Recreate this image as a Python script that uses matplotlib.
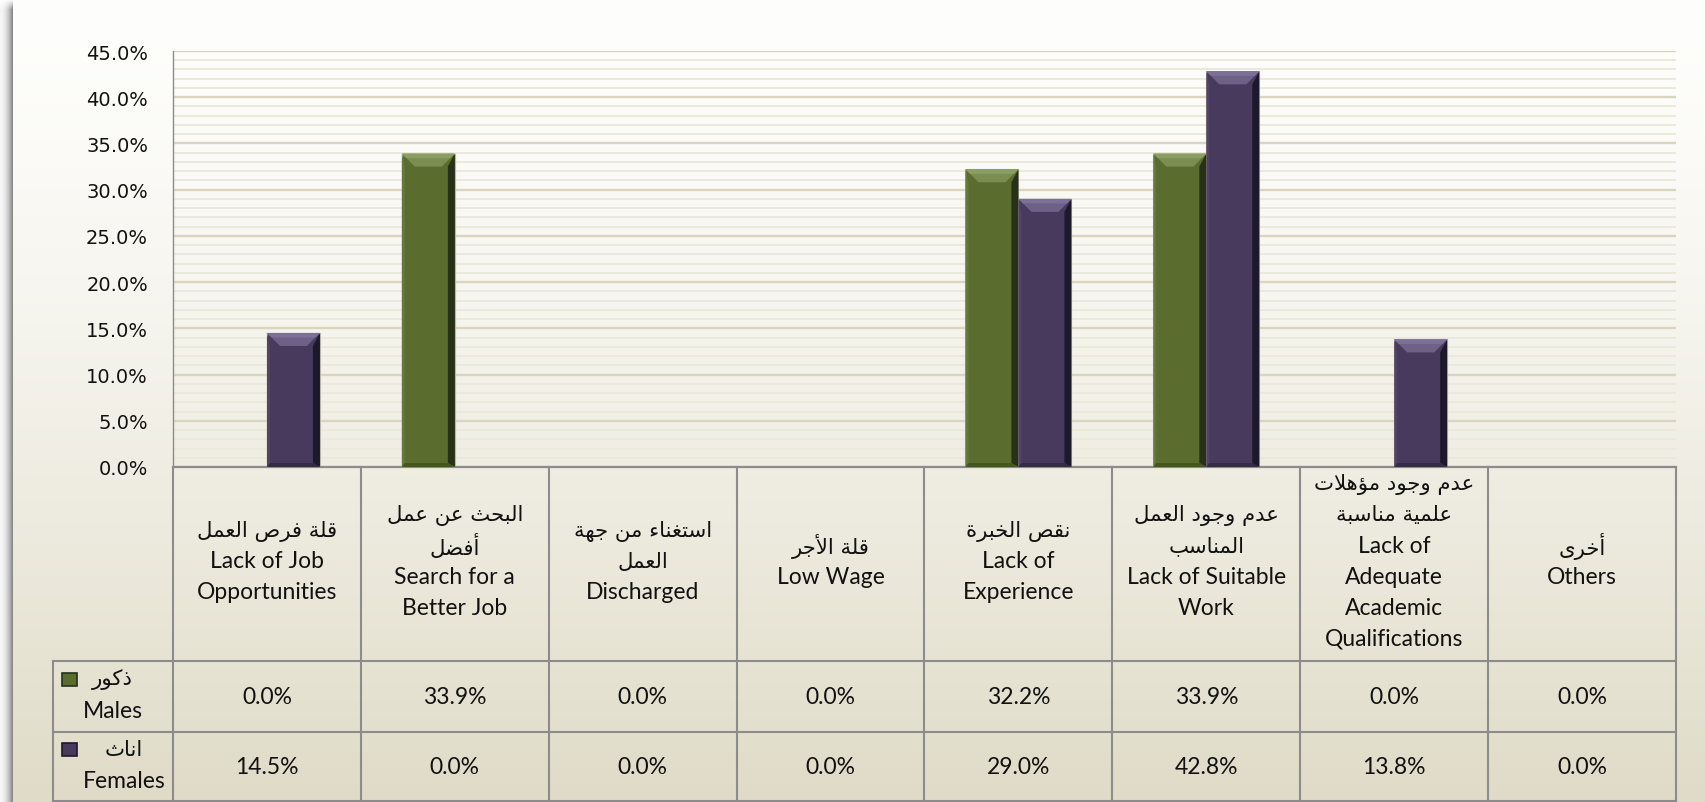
import matplotlib
matplotlib.use('Agg')
import matplotlib.pyplot as plt
from matplotlib.patches import Polygon, Rectangle
from matplotlib.ticker import MultipleLocator, FuncFormatter
import numpy as np

# data (percent)
males = [0.0, 33.9, 0.0, 0.0, 32.2, 33.9, 0.0, 0.0]
females = [14.5, 0.0, 0.0, 0.0, 29.0, 42.8, 13.8, 0.0]
categories = [
    ["قلة فرص العمل", "Lack of Job", "Opportunities"],
    ["البحث عن عمل", "أفضل", "Search for a", "Better Job"],
    ["استغناء من جهة", "العمل", "Discharged"],
    ["قلة الأجر", "Low Wage"],
    ["نقص الخبرة", "Lack of", "Experience"],
    ["عدم وجود العمل", "المناسب", "Lack of Suitable", "Work"],
    ["عدم وجود مؤهلات", "علمية مناسبة", "Lack of", "Adequate", "Academic", "Qualifications"],
    ["أخرى", "Others"],
]
series_ar = ["ذكور", "اناث"]
series_en = ["Males", "Females"]
yticks = np.arange(0, 46, 5)

# --- simple arabic shaping (presentation forms + visual order) ---
AR_FORMS = {
    '\u0621': (0xFE80, 1), '\u0622': (0xFE81, 2), '\u0623': (0xFE83, 2), '\u0624': (0xFE85, 2),
    '\u0625': (0xFE87, 2), '\u0626': (0xFE89, 4), '\u0627': (0xFE8D, 2), '\u0628': (0xFE8F, 4),
    '\u0629': (0xFE93, 2), '\u062A': (0xFE95, 4), '\u062B': (0xFE99, 4), '\u062C': (0xFE9D, 4),
    '\u062D': (0xFEA1, 4), '\u062E': (0xFEA5, 4), '\u062F': (0xFEA9, 2), '\u0630': (0xFEAB, 2),
    '\u0631': (0xFEAD, 2), '\u0632': (0xFEAF, 2), '\u0633': (0xFEB1, 4), '\u0634': (0xFEB5, 4),
    '\u0635': (0xFEB9, 4), '\u0636': (0xFEBD, 4), '\u0637': (0xFEC1, 4), '\u0638': (0xFEC5, 4),
    '\u0639': (0xFEC9, 4), '\u063A': (0xFECD, 4), '\u0641': (0xFED1, 4), '\u0642': (0xFED5, 4),
    '\u0643': (0xFED9, 4), '\u0644': (0xFEDD, 4), '\u0645': (0xFEE1, 4), '\u0646': (0xFEE5, 4),
    '\u0647': (0xFEE9, 4), '\u0648': (0xFEED, 2), '\u0649': (0xFEEF, 2), '\u064A': (0xFEF1, 4),
}
LAM_ALEF = {'\u0622': 0xFEF5, '\u0623': 0xFEF7, '\u0625': 0xFEF9, '\u0627': 0xFEFB}


def is_arabic(s):
    return any(c in AR_FORMS for c in s)


def shape_ar(s):
    out = []
    i, n = 0, len(s)
    prev_joins = False
    while i < n:
        c = s[i]
        if c not in AR_FORMS:
            out.append(c)
            prev_joins = False
            i += 1
            continue
        if c == '\u0644' and i + 1 < n and s[i + 1] in LAM_ALEF:
            out.append(chr(LAM_ALEF[s[i + 1]] + (1 if prev_joins else 0)))
            prev_joins = False
            i += 2
            continue
        base, nf = AR_FORMS[c]
        joins_next = nf == 4 and i + 1 < n and s[i + 1] in AR_FORMS
        if prev_joins and joins_next:
            k = 3
        elif joins_next:
            k = 2
        elif prev_joins and nf > 1:
            k = 1
        else:
            k = 0
        out.append(chr(base + k))
        prev_joins = joins_next
        i += 1
    return ''.join(reversed(out))


W, H = 1705, 803
fig = plt.figure(figsize=(W / 100, H / 100), dpi=100)

# background gradient + left shadow
t = np.linspace(0, 1, H)[:, None] ** 1.4
top_c = np.array([254, 254, 252]) / 255
bot_c = np.array([223, 219, 199]) / 255
bg_img = np.ones((H, W, 3)) * (top_c + (bot_c - top_c) * t[..., None].reshape(H, 1, 1))
sh = np.linspace(0, 1, 13) ** 2
shade = (246 - 110 * sh) / 255
bg_img[:, :13, :] = shade[None, :, None]
fade = np.clip(np.arange(H) / 10.0, 0, 1)[:, None]
bg_img[:, :13, :] = bg_img[:, :13, :] * fade[..., None] + (1 - fade[..., None])
bg = fig.add_axes([0, 0, 1, 1])
bg.imshow(bg_img, aspect='auto', extent=[0, 1, 0, 1], interpolation='bilinear')
bg.axis('off')
bg.set_zorder(-5)

# layout in pixels
x_left, x_right = 173, 1676
y_top, y_base = 52, 468
col_px = (x_right - x_left) / 8.0

ax = fig.add_axes([x_left / W, (H - y_base) / H, (x_right - x_left) / W, (y_base - y_top) / H])
ax.set_facecolor('none')
ax.set_xlim(-0.5, 7.5)
ax.set_ylim(0, 45)
ax.yaxis.set_major_locator(MultipleLocator(5))
ax.yaxis.set_minor_locator(MultipleLocator(1))
ax.yaxis.set_major_formatter(FuncFormatter(lambda v, p: f"{v:.1f}%"))
ax.set_yticks(yticks)
ax.grid(True, which='minor', axis='y', color='#ebe8dc', linewidth=1.4)
ax.grid(True, which='major', axis='y', color='#dbd5c0', linewidth=1.7)
ax.set_axisbelow(True)
ax.set_xticks([])
ax.tick_params(axis='y', which='both', length=0, pad=18, labelsize=14, labelcolor='#111111')
for s in ['top', 'right']:
    ax.spines[s].set_visible(False)
ax.spines['left'].set_color('#8c8c8c')
ax.spines['left'].set_linewidth(1.0)
ax.spines['bottom'].set_color('#8c8c8c')
ax.spines['bottom'].set_linewidth(1.6)

x = np.arange(len(categories))
bw = 0.282
pxx = 1.0 / col_px
pxy = 45.0 / (y_base - y_top)

palettes = [
    dict(body='#5a6d2f', top='#7a8e52', hi='#8a9d62', right='#27311a', left='#64783a',
         bottom='#46561f', edge='#b9b6a4'),
    dict(body='#473a5c', top='#6e6188', hi='#7d7098', right='#1e182b', left='#514466',
         bottom='#352b44', edge='#b9b6a4'),
]


def bevel_bars(bars, pal):
    for b in bars:
        h = b.get_height()
        if h <= 0:
            continue
        x0 = b.get_x()
        x1 = x0 + b.get_width()
        tt = min(13 * pxy, h / 2)
        tx = 13 * pxx
        r = 7 * pxx
        l = 3 * pxx
        bb = min(4 * pxy, h / 4)
        shapes = [
            ([(x0, h), (x0 + l, h - tt), (x0 + l, bb), (x0, 0)], pal['left']),
            ([(x1, h), (x1, 0), (x1 - r, bb), (x1 - r, h - tt)], pal['right']),
            ([(x0, 0), (x1, 0), (x1 - r, bb), (x0 + l, bb)], pal['bottom']),
            ([(x0, h), (x1, h), (x1 - tx, h - tt), (x0 + tx, h - tt)], pal['top']),
            ([(x0, h), (x1, h), (x1 - tx * 0.35, h - tt * 0.35), (x0 + tx * 0.35, h - tt * 0.35)],
             pal['hi']),
        ]
        for pts, c in shapes:
            ax.add_patch(Polygon(pts, closed=True, facecolor=c, edgecolor='none', zorder=3))


bars_m = ax.bar(x - bw / 2, males, bw, color=palettes[0]['body'],
                edgecolor=palettes[0]['edge'], linewidth=0.8, zorder=2)
bars_f = ax.bar(x + bw / 2, females, bw, color=palettes[1]['body'],
                edgecolor=palettes[1]['edge'], linewidth=0.8, zorder=2)
bevel_bars(bars_m, palettes[0])
bevel_bars(bars_f, palettes[1])

# ---- data table ----
tab = fig.add_axes([x_left / W, 0, (x_right - x_left) / W, (H - y_base) / H])
tab.set_facecolor('none')
tab.set_xlim(-0.5, 7.5)
tab.set_ylim(0, H - y_base)
tab.axis('off')

row_f = (0, 70)
row_m = (70, 141)
row_c = (141, H - y_base)
x_hdr = -0.5 - (x_left - 53) * pxx
lc = '#8c8c8c'
lw = 1.5
kw = dict(color=lc, linewidth=lw, clip_on=False, solid_capstyle='projecting')
for i in range(9):
    tab.plot([-0.5 + i, -0.5 + i], [1, row_c[1]], **kw)
tab.plot([x_hdr, x_hdr], [1, row_m[1]], **kw)
for yy in [1, row_f[1], row_m[1]]:
    tab.plot([x_hdr, 7.5], [yy, yy], **kw)

EN = ['Lato', 'DejaVu Sans']
AR = ['DejaVu Sans']
fs_en = 16.5
fs_ar = 15.3
step = 31
yc = (row_c[0] + row_c[1]) / 2 + 3
for i, lines in enumerate(categories):
    n = len(lines)
    for j, ln in enumerate(lines):
        yy = yc + ((n - 1) / 2 - j) * step
        if is_arabic(ln):
            tab.text(i, yy, shape_ar(ln), ha='center', va='center', fontsize=fs_ar,
                     family=AR, color='#111111')
        else:
            tab.text(i, yy, ln, ha='center', va='center', fontsize=fs_en,
                     family=EN, color='#111111')

for vals, row in [(males, row_m), (females, row_f)]:
    for i, v in enumerate(vals):
        tab.text(i, (row[0] + row[1]) / 2, f"{v:.1f}%", ha='center', va='center',
                 fontsize=fs_en, family=EN, color='#111111')

# row headers with legend keys
hdr = [
    (row_m, 123, 91, 112),
    (row_f, 53, 21, 124),
]
for k, (row, y_ar, y_en, x_ar_px) in enumerate(hdr):
    pal = palettes[k]
    tab.add_patch(Rectangle((-0.5 + (62 - x_left) * pxx, y_ar - 7), 15 * pxx, 13,
                            facecolor=pal['body'], edgecolor=pal['right'], linewidth=1.2,
                            clip_on=False))
    tab.text(-0.5 + (x_ar_px - x_left) * pxx, y_ar, shape_ar(series_ar[k]), ha='center',
             va='center', fontsize=fs_ar, family=AR, color='#111111', clip_on=False)
    tab.text(-0.5 + (83 - x_left) * pxx, y_en, series_en[k], ha='left', va='center',
             fontsize=fs_en, family=EN, color='#111111', clip_on=False)

fig.savefig('out.png', dpi=100)
